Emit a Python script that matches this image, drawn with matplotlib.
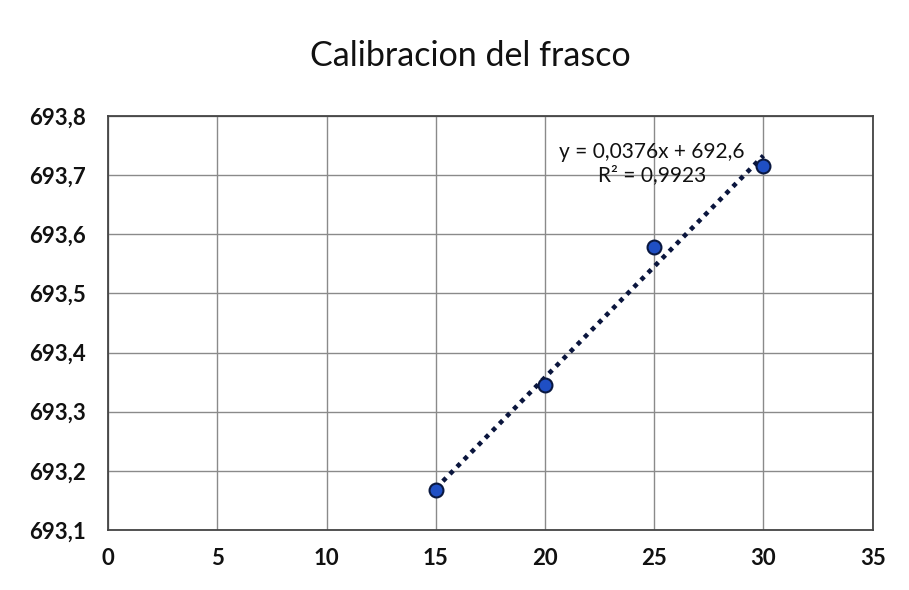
import matplotlib.pyplot as plt
import numpy as np

# calibracion del frasco: temperatura vs masa
temperatura = [15, 20, 25, 30]
masa = [693.168, 693.345, 693.578, 693.716]
eq_text = "y = 0,0376x + 692,6\nR² = 0,9923"

x_ticks = [0, 5, 10, 15, 20, 25, 30, 35]
y_ticks = [693.1, 693.2, 693.3, 693.4, 693.5, 693.6, 693.7, 693.8]

plt.rcParams['font.family'] = ['Lato', 'DejaVu Sans']

fig = plt.figure(figsize=(9.09, 5.90), dpi=100)
ax = fig.add_axes([0.119, 0.102, 0.841, 0.701])

# linea de tendencia (ajuste lineal)
m, b = np.polyfit(temperatura, masa, 1)
xs = np.array([min(temperatura), max(temperatura)])
ax.plot(xs, m * xs + b, linestyle=(0, (1, 1.2)), color='#0a153d', linewidth=3.3, zorder=2)

ax.scatter(temperatura, masa, s=100, color='#1f4fc4', edgecolors='#0a1840',
           linewidths=1.5, zorder=3)

ax.set_xlim(0, 35)
ax.set_ylim(693.1, 693.8)
ax.set_xticks(x_ticks)
ax.set_yticks(y_ticks)
ax.set_yticklabels([f"{v:.1f}".replace('.', ',') for v in y_ticks])
ax.grid(True, color='#8a8a8a', linewidth=1)
ax.set_axisbelow(True)
ax.tick_params(length=0, labelsize=16, labelcolor='#111111')
ax.tick_params(axis='y', pad=16)
ax.tick_params(axis='x', pad=13)
for lbl in ax.get_xticklabels() + ax.get_yticklabels():
    lbl.set_fontweight('bold')
for s in ax.spines.values():
    s.set_color('#444444')
    s.set_linewidth(1.3)

ax.text(24.9, 693.72, eq_text, ha='center', va='center', fontsize=15,
        color='#111111', linespacing=1.15)

fig.text(0.517, 0.905, "Calibracion del frasco", ha='center', va='center',
         fontsize=24.5, color='#111111')

plt.savefig("out.png", dpi=100)
